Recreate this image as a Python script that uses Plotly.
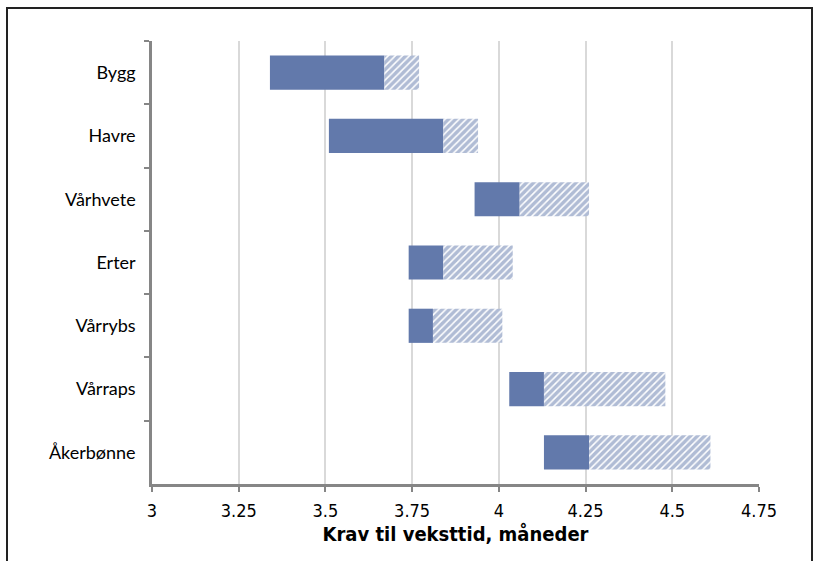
import plotly.graph_objects as go

categories = ["Bygg", "Havre", "Vårhvete", "Erter", "Vårrybs", "Vårraps", "Åkerbønne"]
start = [3.34, 3.51, 3.93, 3.74, 3.74, 4.03, 4.13]
mid = [3.67, 3.84, 4.06, 3.84, 3.81, 4.13, 4.26]
end = [3.77, 3.94, 4.26, 4.04, 4.01, 4.48, 4.61]
tick_vals = [3, 3.25, 3.5, 3.75, 4, 4.25, 4.5, 4.75]
tick_text = ["3", "3.25", "3.5", "3.75", "4", "4.25", "4.5", "4.75"]

blue = "#6279AB"
W, H = 819, 561
L, R, T, B = 152, 60, 41, 77
pw, ph = W - L - R, H - T - B

solid_len = [m - s for s, m in zip(start, mid)]
hatch_len = [e - m for m, e in zip(mid, end)]

fig = go.Figure()
fig.add_trace(go.Bar(
    y=categories, x=solid_len, base=start, orientation="h",
    marker=dict(color=blue, line=dict(width=0)), showlegend=False,
))
fig.add_trace(go.Bar(
    y=categories, x=hatch_len, base=mid, orientation="h",
    marker=dict(color="white", line=dict(width=0),
                pattern=dict(shape="/", fgcolor=blue, bgcolor="white", size=5, solidity=0.7)),
    showlegend=False,
))

axis_grey = "#868686"
fig.update_layout(
    width=W, height=H,
    margin=dict(l=L, r=R, t=T, b=B, autoexpand=False),
    paper_bgcolor="white", plot_bgcolor="white",
    barmode="overlay", bargap=0.46,
    xaxis=dict(
        range=[3, 4.75], tickvals=tick_vals, ticktext=tick_text,
        showgrid=True, gridcolor="#d9d9d9", gridwidth=2,
        showline=True, linecolor=axis_grey, linewidth=2.5,
        ticks="outside", ticklen=5, tickwidth=2, tickcolor=axis_grey,
        ticklabelstandoff=4,
        tickfont=dict(family="DejaVu Sans Condensed, DejaVu Sans", size=18, color="black"),
        title=dict(text="Krav til veksttid, måneder", standoff=7,
                   font=dict(family="DejaVu Sans Condensed, DejaVu Sans", size=20, color="black", weight="bold")),
        zeroline=False, fixedrange=True,
    ),
    yaxis=dict(
        type="category", autorange="reversed",
        showgrid=False, showline=True, linecolor=axis_grey, linewidth=2.5,
        ticks="outside", tickson="boundaries", ticklen=5, tickwidth=2, tickcolor=axis_grey,
        tickfont=dict(family="Lato, Open Sans", size=18, color="black"),
        ticklabelstandoff=10,
        fixedrange=True,
    ),
    shapes=[dict(
        type="rect", xref="paper", yref="paper",
        x0=(7 - L) / pw, x1=(812 - L) / pw,
        y0=(H - B - 600) / ph, y1=(H - B - 8) / ph,
        line=dict(color="#222222", width=2), fillcolor="rgba(0,0,0,0)", layer="above",
    )],
)

fig.write_html("out.html")
